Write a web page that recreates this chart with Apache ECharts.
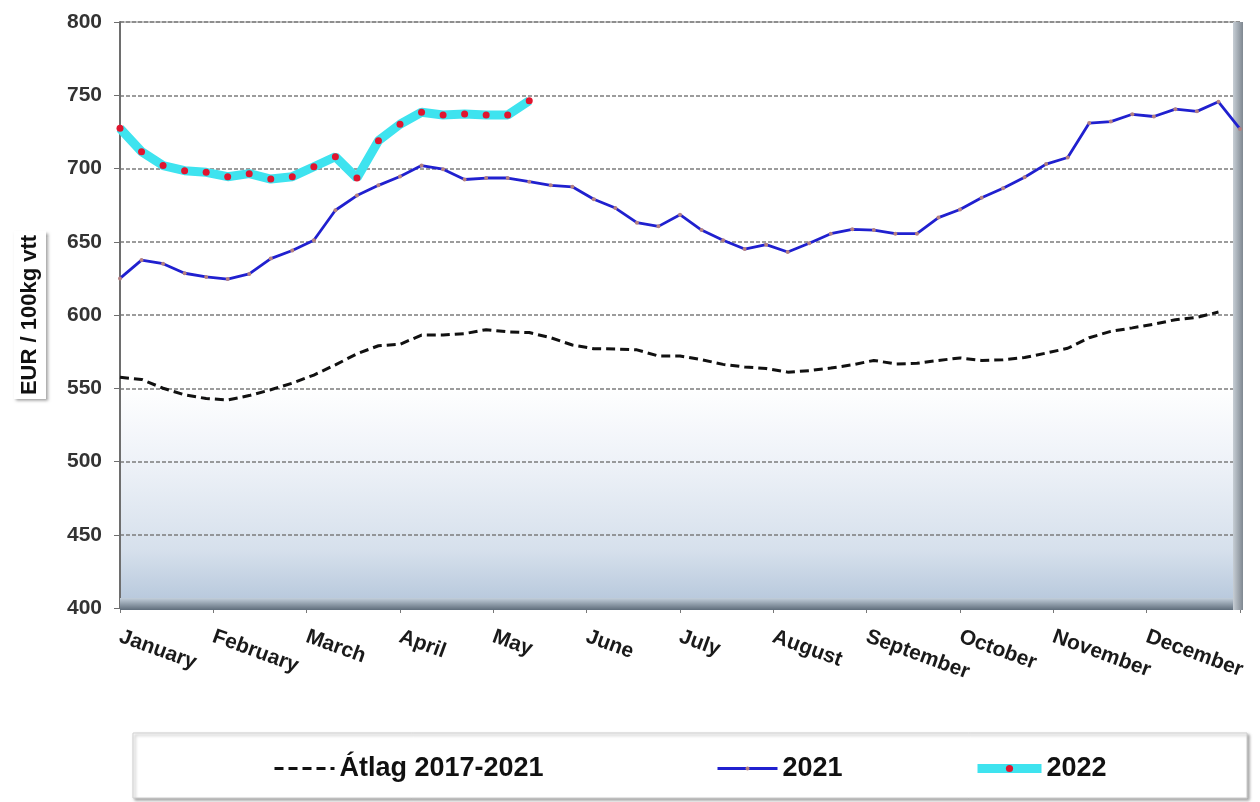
<!DOCTYPE html>
<html>
<head>
<meta charset="utf-8">
<script src="https://cdn.jsdelivr.net/npm/echarts@6/dist/echarts.min.js"></script>
<style>
  html, body { margin: 0; padding: 0; background: #fff; }
  #chart { width: 1260px; height: 802px; }
</style>
</head>
<body>
<div id="chart"></div>
<script>
// weekly data, week 1 .. 53
const weeks = Array.from({ length: 53 }, (_, i) => String(i + 1));
const months = ['January', 'February', 'March', 'April', 'May', 'June',
  'July', 'August', 'September', 'October', 'November', 'December'];

const avg = [557.5, 556, 550, 545.5, 543, 542, 545, 549, 553.5, 559,
  566, 573.5, 579, 580, 586.3, 586.3, 587.3, 590, 588.5, 588,
  584.5, 579.5, 577, 576.8, 576.2, 572, 572, 569.5, 566.3, 564.5,
  563.5, 561, 562, 563.8, 566, 569, 566.6, 567, 569, 570.7,
  569, 569.5, 571, 574, 577.3, 584.5, 588.8, 591.2, 593.7, 596.8,
  598.4, 602];

const y2021 = [625, 637.5, 635, 628.5, 626, 624.5, 628, 638.5, 644, 651,
  671.5, 681.5, 688.5, 694.5, 702, 699.5, 692.5, 693.5, 693.5, 691,
  688.5, 687.5, 679, 673, 663, 660.5, 668.5, 658, 651, 645,
  648, 643, 649, 655.5, 658.5, 658, 655.5, 655.5, 666.5, 672,
  680, 686.5, 694, 703, 707.5, 731, 732, 737, 735.5, 740.5,
  739, 745.5, 727];

const y2022 = [727.4, 711.5, 702, 698.5, 697.4, 694.4, 696.5, 692.8, 694.4, 701.2,
  708, 693.5, 719, 730.2, 738.4, 736.5, 737.2, 736.5, 736.5, 746.3];

const FONT = 'Liberation Sans';

const chart = echarts.init(document.getElementById('chart'));

const legendText = { fontFamily: FONT, fontWeight: 'bold', fontSize: 27, color: '#111' };

chart.setOption({
  animation: false,
  backgroundColor: '#fff',
  grid: {
    left: 120, right: 20, top: 22, bottom: 194,
    show: true,
    borderColor: '#8c8c8c',
    borderWidth: 1,
    backgroundColor: new echarts.graphic.LinearGradient(0, 0, 0, 1, [
      { offset: 0, color: '#ffffff' },
      { offset: 0.62, color: '#ffffff' },
      { offset: 0.75, color: '#eef2f8' },
      { offset: 0.9, color: '#d6e0ec' },
      { offset: 1, color: '#b3c5da' }
    ])
  },
  graphic: [
    // legend frame
    {
      type: 'rect', z: 0,
      shape: { x: 133, y: 733, width: 1114, height: 65 },
      style: { fill: '#fff', stroke: '#cfcfcf', lineWidth: 1,
        shadowBlur: 3, shadowOffsetX: 2, shadowOffsetY: 2, shadowColor: 'rgba(0,0,0,0.35)' }
    },
    // bottom floor of the plot
    {
      type: 'rect', z: 1,
      shape: { x: 120, y: 598, width: 1123, height: 12 },
      style: { fill: new echarts.graphic.LinearGradient(0, 0, 0, 1, [
        { offset: 0, color: '#c3cfdb' }, { offset: 1, color: '#5f6d7b' }]) }
    },
    // right wall of the plot
    {
      type: 'rect', z: 1,
      shape: { x: 1233, y: 22, width: 10, height: 588 },
      style: { fill: new echarts.graphic.LinearGradient(0, 0, 1, 0, [
        { offset: 0, color: '#c7ced5' }, { offset: 1, color: '#7f8891' }]) }
    }
  ],
  legend: [
    {
      data: ['Átlag 2017-2021'], left: 268, top: 750,
      itemWidth: 60, itemHeight: 14,
      itemStyle: { color: 'transparent', borderWidth: 0 },
      lineStyle: { width: 3 },
      textStyle: legendText
    },
    {
      data: ['2021'], left: 711, top: 750,
      itemWidth: 60, itemHeight: 5,
      lineStyle: { width: 3 },
      textStyle: legendText
    },
    {
      data: ['2022'], left: 968, top: 750,
      itemWidth: 64, itemHeight: 9,
      lineStyle: { width: 9 },
      textStyle: legendText
    }
  ],
  xAxis: [
    {
      type: 'category',
      data: weeks,
      boundaryGap: false,
      show: false
    },
    {
      type: 'value',
      min: 0, max: 12, interval: 1,
      position: 'bottom',
      axisLine: { show: false },
      axisTick: { show: true, length: 5, lineStyle: { color: '#777' } },
      splitLine: { show: false },
      axisLabel: {
        rotate: -20,
        margin: 28,
        fontFamily: FONT, fontWeight: 'bold', fontSize: 21, color: '#1a1a1a',
        formatter: v => months[v] || ''
      }
    }
  ],
  yAxis: {
    type: 'value',
    min: 400, max: 800, interval: 50,
    name: 'EUR / 100kg vtt',
    nameLocation: 'middle',
    nameGap: 74,
    nameTextStyle: {
      fontFamily: FONT, fontWeight: 'bold', fontSize: 22, color: '#111',
      backgroundColor: '#fff', padding: [5, 4, 5, 4],
      shadowBlur: 3, shadowOffsetX: 2, shadowOffsetY: 2, shadowColor: 'rgba(0,0,0,0.4)'
    },
    axisLine: { show: true, lineStyle: { color: '#6e6e6e', width: 2 } },
    axisTick: { show: true, length: 6, lineStyle: { color: '#6e6e6e' } },
    axisLabel: {
      margin: 18,
      fontFamily: FONT, fontWeight: 'bold', fontSize: 21, color: '#333'
    },
    splitLine: { show: true, lineStyle: { color: '#7c7c7c', width: 1.5, type: [4, 2] } }
  },
  series: [
    {
      name: 'Átlag 2017-2021',
      type: 'line',
      data: avg,
      xAxisIndex: 0,
      symbol: 'none',
      z: 3,
      lineStyle: { color: '#111', width: 3, type: [9, 5] },
      itemStyle: { color: '#111' }
    },
    {
      name: '2021',
      type: 'line',
      data: y2021,
      xAxisIndex: 0,
      symbol: 'circle',
      symbolSize: 4,
      z: 4,
      lineStyle: { color: '#2020cf', width: 2.8 },
      itemStyle: { color: '#b58080' }
    },
    {
      name: '2022',
      type: 'line',
      data: y2022,
      xAxisIndex: 0,
      symbol: 'circle',
      symbolSize: 7,
      z: 5,
      lineStyle: { color: '#3ee3ef', width: 9 },
      itemStyle: { color: '#e0152f' }
    }
  ]
});
</script>
</body>
</html>
